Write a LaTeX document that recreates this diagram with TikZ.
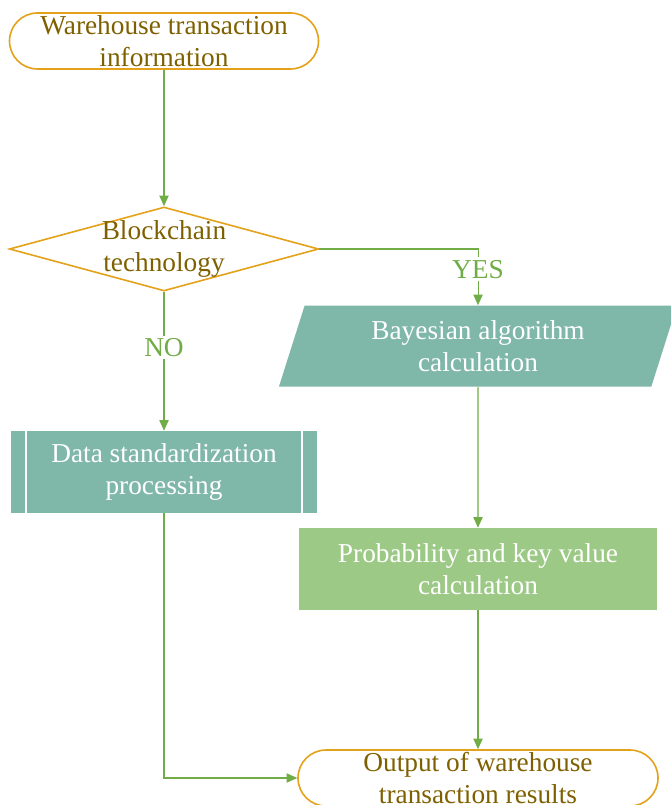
\documentclass[tikz,border=0pt]{standalone}
\usepackage{fontspec}
\setmainfont{Liberation Serif}
\usetikzlibrary{shapes.geometric,arrows.meta}

\definecolor{goldline}{HTML}{E3A21A}
\definecolor{browntext}{HTML}{7F6000}
\definecolor{flowgreen}{HTML}{70AD47}
\definecolor{tealfill}{HTML}{7FB7A8}
\definecolor{leaffill}{HTML}{9DC986}

\begin{document}
\begin{tikzpicture}[
			x=0.75pt, y=-0.75pt,
			>={Triangle[length=8pt,width=7pt]},
			every node/.style={font=\fontsize{20.5}{24.5}\selectfont, align=center},
			terminal/.style={draw=goldline, line width=1.2pt, rounded corners=21pt, minimum height=42pt, inner sep=0pt, text=browntext},
			decision/.style={diamond, aspect=3.68, draw=goldline, line width=1.2pt, minimum width=232pt, minimum height=63pt, inner sep=-12pt, text=browntext},
			process/.style={fill=tealfill, text=white, minimum width=230pt, minimum height=61.5pt, inner sep=0pt},
			flow/.style={->, draw=flowgreen, line width=0.8pt},
			answer/.style={fill=white, text=flowgreen, inner sep=2pt}
		]
			\useasboundingbox (0,0) rectangle (670,805);
			
			\node[terminal, minimum width=231.75pt] (start) at (164,41) {Warehouse transaction\\information};
			\node[decision] (chain) at (164,249) {Blockchain\\technology};
			
			\node[process] (std) at (164,472) {Data standardization\\processing};
			\draw[white, line width=1.5pt] ([xshift=12pt]std.north west) -- ([xshift=12pt]std.south west);
			\draw[white, line width=1.5pt] ([xshift=-12pt]std.north east) -- ([xshift=-12pt]std.south east);
			
			\node[trapezium, trapezium left angle=63.7, trapezium right angle=116.3, trapezium stretches body,
				fill=tealfill, text=white, minimum width=298.5pt, minimum height=60.75pt, inner sep=0pt] (bayes) at (478,346) {Bayesian algorithm\\calculation};
			\node[process, fill=leaffill, minimum width=268.5pt] (prob) at (478,569) {Probability and key value\\calculation};
			\node[terminal, minimum width=270pt] (output) at (478,778) {Output of warehouse\\transaction results};
			
			\draw[flow] (start) -- (chain);
			\draw[flow] (chain.east) -| node[answer, pos=0.68] {YES} (bayes);
			\draw[flow] (chain) -- node[answer, pos=0.4] {NO} (std);
			\draw[flow] (bayes) -- (prob);
			\draw[flow] (prob) -- (output);
			\draw[flow] (std) |- (output);
		\end{tikzpicture}
\end{document}
